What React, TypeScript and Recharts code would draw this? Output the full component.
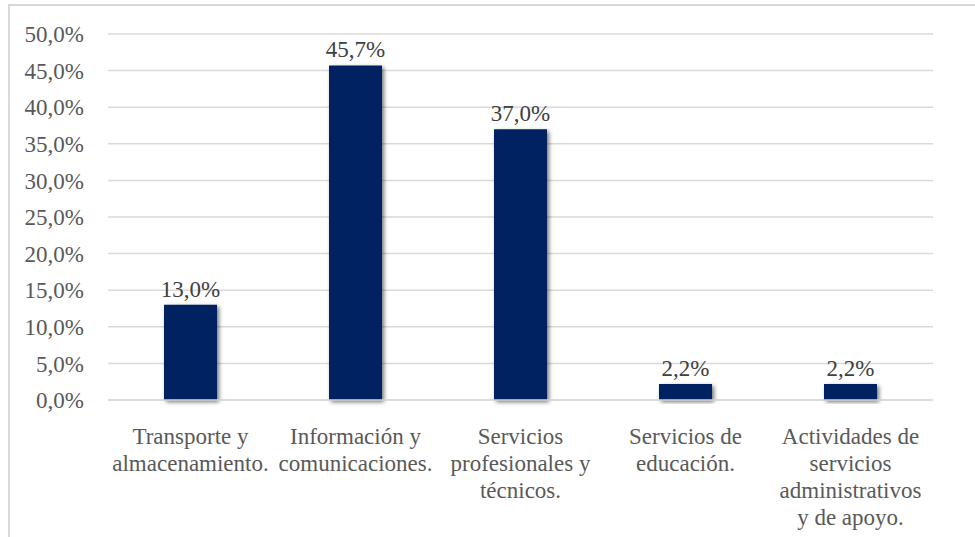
import { BarChart, Bar, XAxis, YAxis, CartesianGrid, LabelList } from "recharts"

// Category labels as they wrap under the axis
const categoryLines = [
  ["Transporte y", "almacenamiento."],
  ["Información y", "comunicaciones."],
  ["Servicios", "profesionales y", "técnicos."],
  ["Servicios de", "educación."],
  ["Actividades de", "servicios", "administrativos", "y de apoyo."],
]
const categories = categoryLines.map((lines) => lines.join(" "))
const shares = [13.0, 45.7, 37.0, 2.2, 2.2]
const yTicks = [0, 5, 10, 15, 20, 25, 30, 35, 40, 45, 50]

const data = categories.map((name, i) => ({ name, value: shares[i] }))

const FONT = "Times New Roman, Liberation Serif, serif"
const fmt = (v: number) => v.toFixed(1).replace(".", ",") + "%"

function CategoryTick(props: any) {
  const { x, y, index } = props
  const lines = categoryLines[index] || []
  return (
    <text x={x} y={y} textAnchor="middle" fill="#595959" style={{ fontFamily: FONT, fontSize: 23 }}>
      {lines.map((l, i) => (
        <tspan key={i} x={x} dy={i === 0 ? 36 : 27}>
          {l}
        </tspan>
      ))}
    </text>
  )
}

function ValueLabel(props: any) {
  const { x, y, width, value } = props
  return (
    <text x={x + width / 2} y={y - 8} textAnchor="middle" fill="#404040" style={{ fontFamily: FONT, fontSize: 23 }}>
      {fmt(value)}
    </text>
  )
}

export default function App() {
  return (
    <div
      style={{
        position: "absolute",
        left: 8,
        top: 4,
        width: 967,
        height: 533,
        borderTop: "2px solid #d9d9d9",
        borderLeft: "2px solid #d9d9d9",
        boxSizing: "border-box",
        background: "#fff",
        overflow: "hidden",
        fontFamily: FONT,
      }}
    >
      <BarChart width={965} height={531} data={data} margin={{ top: 28, right: 42, left: 0, bottom: 0 }}>
        <defs>
          <filter id="barShadow" x="-30%" y="-10%" width="160%" height="130%">
            <feDropShadow dx={2} dy={2} stdDeviation={2.2} floodColor="#000" floodOpacity={0.55} />
          </filter>
        </defs>
        <CartesianGrid vertical={false} stroke="#d9d9d9" strokeWidth={1.5} />
        <XAxis
          dataKey="name"
          height={137}
          interval={0}
          tickLine={false}
          axisLine={{ stroke: "#d9d9d9", strokeWidth: 1.5 }}
          tick={<CategoryTick />}
        />
        <YAxis
          width={98}
          domain={[0, 50]}
          ticks={yTicks}
          tickFormatter={fmt}
          axisLine={false}
          tickLine={false}
          tickSize={0}
          tickMargin={24}
          tick={{ fill: "#595959", fontSize: 23, style: { fontFamily: FONT } }}
        />
        <Bar dataKey="value" fill="#002060" barSize={53} isAnimationActive={false} filter="url(#barShadow)">
          <LabelList dataKey="value" content={<ValueLabel />} />
        </Bar>
      </BarChart>
    </div>
  )
}
